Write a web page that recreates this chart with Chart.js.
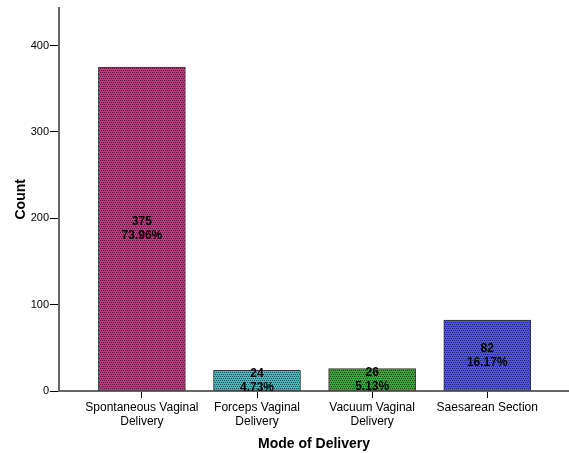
<!DOCTYPE html>
<html>
<head>
<meta charset="utf-8">
<script src="https://cdn.jsdelivr.net/npm/chart.js@4.4.1/dist/chart.umd.min.js"></script>
<style>
  html, body { margin: 0; padding: 0; background: #fff; }
  #wrap { width: 569px; height: 453px; position: relative; }
</style>
</head>
<body>
<div id="wrap"><canvas id="c"></canvas></div>
<script>
// data
const categories = [
  ["Spontaneous Vaginal", "Delivery"],
  ["Forceps Vaginal", "Delivery"],
  ["Vacuum Vaginal", "Delivery"],
  ["Saesarean Section"]
];
const counts = [375, 24, 26, 82];
const percents = ["73.96%", "4.73%", "5.13%", "16.17%"];
const yTicks = [0, 100, 200, 300, 400];

// bar fill colours (base, dot)
const baseColors = ["#c8347f", "#3fbcbc", "#2fae3e", "#5252ee"];
const dotColors = ["#5a1436", "#155050", "#0f4a18", "#20206a"];

// dotted texture like the SPSS fill
function makePattern(base, dot) {
  const p = document.createElement('canvas');
  p.width = 4; p.height = 4;
  const g = p.getContext('2d');
  g.fillStyle = base;
  g.fillRect(0, 0, 4, 4);
  g.fillStyle = dot;
  g.fillRect(0, 0, 1, 1); g.fillRect(2, 0, 1, 1);
  g.fillRect(1, 2, 1, 1); g.fillRect(3, 2, 1, 1);
  return g.createPattern(p, 'repeat');
}
const fills = baseColors.map((b, i) => makePattern(b, dotColors[i]));

// labels inside the bars
const barLabels = {
  id: 'barLabels',
  afterDatasetsDraw(chart) {
    const ctx = chart.ctx;
    const meta = chart.getDatasetMeta(0);
    ctx.save();
    ctx.font = 'bold 12px "Liberation Sans", Arial, sans-serif';
    ctx.fillStyle = '#000';
    ctx.textAlign = 'center';
    ctx.textBaseline = 'middle';
    meta.data.forEach((bar, i) => {
      const mid = (bar.y + bar.base) / 2;
      ctx.fillText(String(counts[i]), bar.x, mid - 7);
      ctx.fillText(percents[i], bar.x, mid + 7);
    });
    ctx.restore();
  }
};

const points = counts.map((v, i) => ({ x: i, y: v }));

new Chart(document.getElementById('c'), {
  type: 'bar',
  data: {
    datasets: [{
      data: points,
      backgroundColor: fills,
      borderColor: '#333',
      borderWidth: 1,
      borderSkipped: false,
      barThickness: 87
    }]
  },
  options: {
    responsive: true,
    maintainAspectRatio: false,
    animation: false,
    layout: { padding: { top: 4, left: 0, right: 0, bottom: 0 } },
    plugins: {
      legend: { display: false },
      tooltip: { enabled: false }
    },
    scales: {
      x: {
        type: 'linear',
        min: -0.72,
        max: 3.71,
        offset: false,
        afterBuildTicks(scale) {
          scale.ticks = categories.map((c, i) => ({ value: i }));
        },
        afterFit(scale) { scale.height = 62; },
        grid: {
          offset: false,
          drawOnChartArea: false,
          drawTicks: true,
          tickLength: 7,
          color: '#000'
        },
        border: { display: true, color: '#666', width: 2 },
        ticks: {
          autoSkip: false,
          maxRotation: 0,
          padding: 3,
          color: '#000',
          font: { family: '"Liberation Sans", Arial, sans-serif', size: 12, lineHeight: 1.15 },
          callback: (v) => categories[v] || ''
        },
        title: {
          display: true,
          text: 'Mode of Delivery',
          color: '#000',
          font: { family: '"Liberation Sans", Arial, sans-serif', size: 14, weight: 'bold' },
          padding: { top: 4, bottom: 0 }
        }
      },
      y: {
        min: 0,
        max: 444,
        afterBuildTicks(scale) {
          scale.ticks = yTicks.map(v => ({ value: v }));
        },
        afterFit(scale) { scale.width = 59; },
        grid: {
          drawOnChartArea: false,
          drawTicks: true,
          tickLength: 9,
          color: '#000'
        },
        border: { display: true, color: '#666', width: 2 },
        ticks: {
          padding: 1,
          color: '#000',
          font: { family: '"Liberation Sans", Arial, sans-serif', size: 11 }
        },
        title: {
          display: true,
          text: 'Count',
          color: '#000',
          font: { family: '"Liberation Sans", Arial, sans-serif', size: 14, weight: 'bold' },
          padding: { top: 13, bottom: 0 }
        }
      }
    }
  },
  plugins: [barLabels]
});
</script>
</body>
</html>
